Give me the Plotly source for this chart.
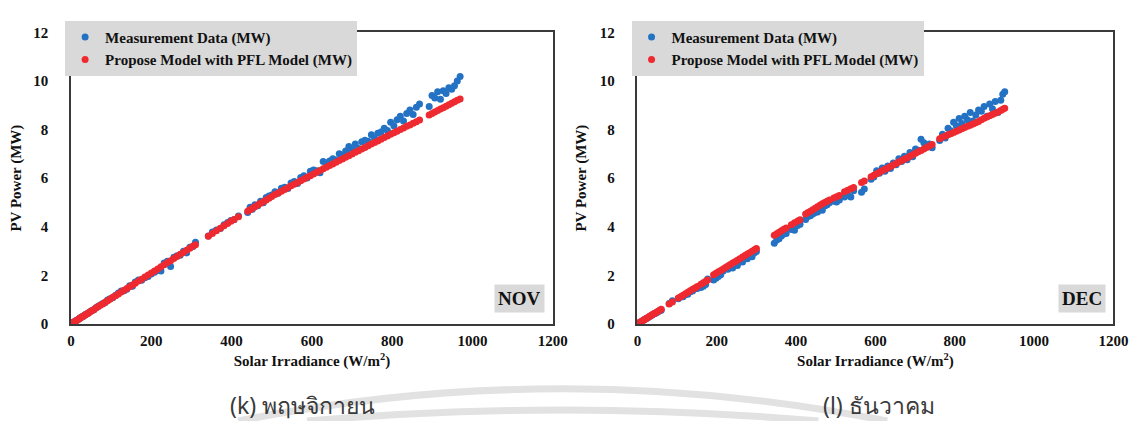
import plotly.graph_objects as go

# ---------------- DATA ----------------
nov_irr = [1, 3, 5, 7, 9, 12, 15, 18, 21, 24,
           27, 31, 35, 39, 43, 47, 52, 57, 62, 67,
           73, 79, 85, 91, 97, 104, 111, 118, 125, 132,
           139, 146, 153, 160, 168, 176, 184, 192, 200, 208,
           216, 224, 232, 240, 248, 256, 264, 272, 280, 288,
           296, 304, 310, 342, 352, 362, 372, 381, 390, 398,
           406, 417, 440, 446, 452, 458, 465, 472, 479, 486,
           493, 500, 508, 516, 524, 532, 540, 548, 556, 564,
           572, 580, 588, 596, 604, 612, 620, 628, 636, 644,
           652, 660, 668, 676, 684, 692, 700, 708, 716, 724,
           732, 740, 748, 756, 764, 772, 780, 788, 796, 804,
           812, 820, 828, 836, 844, 852, 860, 868, 892, 899,
           906, 913, 920, 927, 934, 941, 948, 955, 962, 969]
nov_meas = [0.01, 0.02, 0.05, 0.08, 0.09, 0.13, 0.15, 0.19, 0.22, 0.26,
            0.29, 0.31, 0.37, 0.41, 0.44, 0.50, 0.55, 0.58, 0.66, 0.71,
            0.78, 0.84, 0.88, 0.98, 1.03, 1.07, 1.18, 1.27, 1.35, 1.36,
            1.42, 1.57, 1.55, 1.72, 1.80, 1.79, 1.90, 1.95, 2.05, 2.12,
            2.20, 2.18, 2.50, 2.58, 2.36, 2.74, 2.80, 2.82, 2.99, 2.92,
            3.15, 3.18, 3.36, 3.62, 3.78, 3.86, 3.92, 4.08, 4.17, 4.25,
            4.28, 4.44, 4.58, 4.80, 4.72, 4.90, 4.86, 5.05, 4.98, 5.20,
            5.26, 5.30, 5.44, 5.38, 5.58, 5.62, 5.57, 5.80, 5.86, 5.78,
            6.02, 6.10, 6.00, 6.28, 6.33, 6.30, 6.22, 6.68, 6.62, 6.70,
            6.80, 6.74, 7.00, 6.95, 7.12, 7.30, 7.18, 7.40, 7.22, 7.50,
            7.56, 7.52, 7.78, 7.62, 7.85, 7.90, 8.05, 7.96, 8.30, 8.15,
            8.40, 8.55, 8.35, 8.66, 8.80, 8.62, 8.92, 9.05, 8.95, 9.40,
            9.30, 9.55, 9.25, 9.60, 9.48, 9.72, 9.66, 9.80, 10.00, 10.18]
nov_model = [0.01, 0.03, 0.05, 0.07, 0.09, 0.12, 0.15, 0.18, 0.22, 0.25,
             0.28, 0.32, 0.36, 0.40, 0.45, 0.49, 0.54, 0.59, 0.65, 0.70,
             0.76, 0.82, 0.89, 0.95, 1.01, 1.09, 1.16, 1.23, 1.31, 1.38,
             1.45, 1.53, 1.60, 1.67, 1.76, 1.84, 1.93, 2.01, 2.09, 2.18,
             2.26, 2.35, 2.43, 2.52, 2.60, 2.69, 2.77, 2.86, 2.94, 3.03,
             3.11, 3.20, 3.26, 3.61, 3.72, 3.83, 3.94, 4.04, 4.13, 4.22,
             4.30, 4.41, 4.64, 4.70, 4.76, 4.82, 4.89, 4.96, 5.03, 5.10,
             5.17, 5.24, 5.32, 5.39, 5.46, 5.53, 5.60, 5.68, 5.75, 5.82,
             5.89, 5.96, 6.03, 6.10, 6.17, 6.24, 6.31, 6.38, 6.45, 6.52,
             6.58, 6.65, 6.72, 6.79, 6.86, 6.92, 6.99, 7.06, 7.13, 7.20,
             7.26, 7.33, 7.40, 7.47, 7.53, 7.60, 7.67, 7.73, 7.80, 7.87,
             7.93, 8.00, 8.06, 8.13, 8.19, 8.26, 8.32, 8.39, 8.60, 8.66,
             8.72, 8.78, 8.84, 8.90, 8.96, 9.02, 9.08, 9.14, 9.20, 9.26]

dec_irr = [1, 3, 5, 8, 11, 14, 17, 20, 24, 28,
           32, 36, 40, 44, 48, 52, 56, 60, 80, 88,
           103, 109, 115, 121, 127, 133, 139, 145, 151, 160,
           166, 172, 177, 192, 198, 204, 210, 216, 222, 228,
           234, 240, 246, 252, 258, 265, 271, 277, 283, 289,
           295, 300, 345, 351, 357, 363, 369, 375, 388, 396,
           404, 410, 424, 430, 436, 442, 448, 454, 460, 466,
           472, 478, 484, 495, 502, 509, 522, 530, 538, 545,
           565, 572, 589, 596, 603, 610, 617, 624, 631, 638,
           645, 652, 659, 666, 673, 680, 687, 694, 701, 708,
           715, 722, 729, 736, 743, 762, 769, 776, 783, 790,
           797, 804, 811, 818, 825, 832, 839, 846, 853, 860,
           867, 874, 881, 888, 895, 902, 909, 916, 921, 926]
dec_meas = [0.01, 0.03, 0.05, 0.08, 0.10, 0.14, 0.17, 0.20, 0.23, 0.27,
            0.31, 0.35, 0.39, 0.43, 0.46, 0.50, 0.54, 0.56, 0.84, 0.95,
            1.03, 1.10, 1.12, 1.20, 1.22, 1.32, 1.35, 1.44, 1.45, 1.50,
            1.55, 1.62, 1.85, 1.80, 1.88, 1.95, 2.02, 2.18, 2.28, 2.25,
            2.32, 2.30, 2.48, 2.40, 2.60, 2.55, 2.74, 2.68, 2.80, 2.76,
            2.92, 2.98, 3.32, 3.45, 3.50, 3.62, 3.70, 3.72, 3.88, 3.85,
            4.05, 4.10, 4.30, 4.42, 4.45, 4.52, 4.58, 4.60, 4.72, 4.68,
            4.85, 4.90, 4.98, 5.05, 5.02, 5.10, 5.22, 5.30, 5.22, 5.48,
            5.42, 5.55, 5.95, 6.05, 6.30, 6.20, 6.42, 6.28, 6.50, 6.40,
            6.62, 6.55, 6.80, 6.68, 6.90, 6.75, 7.05, 6.88, 7.20, 7.15,
            7.60, 7.45, 7.30, 7.40, 7.25, 7.55, 7.80, 7.65, 8.05, 7.95,
            8.30, 8.15, 8.45, 8.25, 8.55, 8.40, 8.70, 8.35, 8.60, 8.80,
            8.75, 8.95, 8.55, 9.05, 8.85, 9.15, 8.70, 9.20, 9.45, 9.55]
dec_model = [0.01, 0.03, 0.05, 0.08, 0.11, 0.14, 0.17, 0.20, 0.24, 0.28,
             0.32, 0.36, 0.40, 0.44, 0.48, 0.52, 0.56, 0.60, 0.82, 0.90,
             1.06, 1.12, 1.18, 1.24, 1.30, 1.36, 1.42, 1.48, 1.54, 1.63,
             1.69, 1.75, 1.80, 2.02, 2.08, 2.14, 2.20, 2.26, 2.32, 2.38,
             2.44, 2.50, 2.56, 2.62, 2.68, 2.75, 2.81, 2.87, 2.93, 2.99,
             3.05, 3.10, 3.65, 3.71, 3.77, 3.83, 3.89, 3.95, 4.08, 4.16,
             4.23, 4.29, 4.52, 4.58, 4.64, 4.70, 4.76, 4.82, 4.88, 4.94,
             5.00, 5.05, 5.10, 5.18, 5.23, 5.28, 5.44, 5.50, 5.56, 5.61,
             5.82, 5.88, 6.06, 6.12, 6.18, 6.24, 6.30, 6.36, 6.42, 6.48,
             6.54, 6.60, 6.66, 6.72, 6.78, 6.84, 6.90, 6.96, 7.02, 7.08,
             7.14, 7.20, 7.26, 7.32, 7.38, 7.62, 7.68, 7.73, 7.78, 7.83,
             7.88, 7.93, 7.98, 8.03, 8.08, 8.13, 8.18, 8.23, 8.28, 8.33,
             8.40, 8.46, 8.52, 8.57, 8.62, 8.67, 8.72, 8.78, 8.83, 8.88]

x_ticks = [0, 200, 400, 600, 800, 1000, 1200]
y_ticks = [0, 2, 4, 6, 8, 10, 12]
series_names = ["Measurement Data (MW)", "Propose Model with PFL Model (MW)"]
month_tags = ["NOV", "DEC"]
captions = ["(k) พฤษจิกายน", "(l) ธันวาคม"]

# ---------------- STYLE ----------------
W, H = 1145, 421
BLUE = "#2472c4"
RED = "#ee2a30"
SERIF = "Liberation Serif, Times New Roman, serif"
FRAME = "#3a3a3a"
INK = "#111111"


def px_x(p):
    return p / W


def px_y(p):
    return 1 - p / H


panels = [
    dict(x0=60, x1=550, xa="x", ya="y"),
    dict(x0=636, x1=1120, xa="x2", ya="y2"),
]
top, bottom = 17, 320

fig = go.Figure()
data_sets = [(nov_irr, nov_meas, nov_model), (dec_irr, dec_meas, dec_model)]
for i, (irr, meas, model) in enumerate(data_sets):
    leg = "legend" if i == 0 else "legend2"
    fig.add_trace(go.Scatter(x=irr, y=meas, mode="markers", name=series_names[0],
                             marker=dict(color=BLUE, size=7, line=dict(width=0)),
                             xaxis=panels[i]["xa"], yaxis=panels[i]["ya"], legend=leg))
    fig.add_trace(go.Scatter(x=irr, y=model, mode="markers", name=series_names[1],
                             marker=dict(color=RED, size=7, line=dict(width=0)),
                             xaxis=panels[i]["xa"], yaxis=panels[i]["ya"], legend=leg))

layout = dict(width=W, height=H, margin=dict(l=0, r=0, t=0, b=0),
              paper_bgcolor="white", plot_bgcolor="white", showlegend=True)

tickfont = dict(family=SERIF, size=15, color=INK, weight="bold")
titlefont = dict(family=SERIF, size=15, color=INK, weight="bold")
for i, p in enumerate(panels):
    sfx = "" if i == 0 else "2"
    layout["xaxis" + sfx] = dict(
        domain=[px_x(p["x0"]), px_x(p["x1"])], range=[0, 1200], tickvals=x_ticks,
        showgrid=False, zeroline=False, showline=True, linecolor=FRAME, linewidth=1.5,
        mirror=True, ticks="", tickfont=tickfont, anchor="y" + sfx, ticklabelstandoff=2,
        title=dict(text="Solar Irradiance (W/m<sup>2</sup>)", font=titlefont, standoff=8),
        fixedrange=True)
    layout["yaxis" + sfx] = dict(
        domain=[px_y(bottom), px_y(top)], range=[0, 12], tickvals=y_ticks,
        showgrid=False, zeroline=False, showline=True, linecolor=FRAME, linewidth=1.5,
        mirror=True, ticks="", tickfont=tickfont, anchor="x" + sfx, ticklabelstandoff=18,
        title=dict(text="PV Power (MW)", font=titlefont, standoff=9),
        fixedrange=True)
    legname = "legend" if i == 0 else "legend2"
    layout[legname] = dict(
        x=px_x(p["x0"] - 6), y=px_y(5), xanchor="left", yanchor="top",
        bgcolor="#d9d9d9", borderwidth=0, itemwidth=30, tracegroupgap=0,
        font=dict(family=SERIF, size=15, color=INK, weight="bold"),
        itemclick=False, itemdoubleclick=False)

fig.update_layout(**layout)

# month tags
for i, p in enumerate(panels):
    fig.add_annotation(text=month_tags[i], xref="paper", yref="paper",
                       x=px_x(p["x1"] - 8), y=px_y(309), xanchor="right", yanchor="bottom",
                       showarrow=False, bgcolor="#d9d9d9", borderpad=3,
                       font=dict(family=SERIF, size=19, color=INK, weight="bold"))

# captions
cap_x = [295, 882]
for i in range(2):
    fig.add_annotation(text=captions[i], xref="paper", yref="paper",
                       x=px_x(cap_x[i]), y=px_y(404), xanchor="center", yanchor="middle",
                       showarrow=False,
                       font=dict(family="Noto Sans, DejaVu Sans, sans-serif", size=23, color="#3a3a3a"))

# faint watermark arcs
fig.add_shape(type="path", xref="paper", yref="paper", layer="below",
              path=f"M {px_x(230)} {px_y(421)} Q {px_x(560)} {px_y(354)} {px_x(890)} {px_y(421)}",
              line=dict(color="#e2e2e2", width=7))
fig.add_shape(type="path", xref="paper", yref="paper", layer="below",
              path=f"M {px_x(300)} {px_y(421)} Q {px_x(560)} {px_y(398)} {px_x(820)} {px_y(421)}",
              line=dict(color="#e2e2e2", width=7))

fig.write_html("out.html")
